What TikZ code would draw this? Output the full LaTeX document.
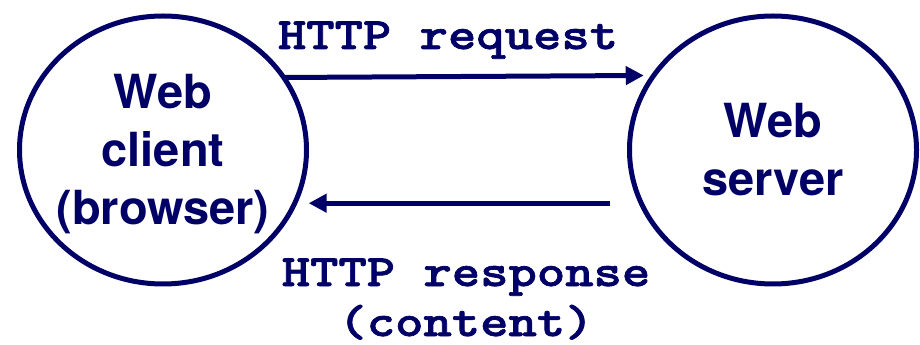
\documentclass[tikz,border=0pt]{standalone}
\usepackage{fontspec}
\usetikzlibrary{shapes.geometric,arrows.meta}
\newfontfamily\herosfont{TeX Gyre Heros}
\newfontfamily\courfont[FakeStretch=1.2,FakeBold=1.5]{lmmonolt10-bold.otf}
\definecolor{navy}{RGB}{0,0,102}
\tikzset{
  host/.style={draw=navy, line width=5pt, ellipse, minimum width=287pt,
    minimum height=268pt, inner sep=0pt, outer sep=0pt},
  hostlabel/.style={text=navy, font=\herosfont\bfseries\fontsize{47}{58}\selectfont,
    align=center, inner sep=0pt},
  msg/.style={text=navy, font=\courfont\fontsize{45}{50}\selectfont,
    align=center, inner sep=0pt},
  flow/.style={draw=navy, line width=5pt, -{Triangle[length=18pt,width=18pt]}}
}
\begin{document}
\begin{tikzpicture}[x=1pt,y=1pt]
        \useasboundingbox (0,0) rectangle (920,345);
        % クライアントの楕円
        \node[host] (client) at (163,195) {};
        \node[hostlabel, yshift=-4pt] (clienttext) at (client) {Web\\client\\(browser)};
        % サーバの楕円
        \node[host] (server) at (773,195) {};
        \node[hostlabel] (servertext) at (server) {Web\\server};
        % リクエストの矢印
        \draw[flow] (client.31.25) -- ([xshift=-10pt]server.148.75);
        \node[msg, anchor=base] (reqlabel) at (448,296) {HTTP request};
        % レスポンスの矢印
        \draw[flow] ([xshift=-31pt]server.202.35) -- ([xshift=14pt]client.-22.35);
        \node[msg, anchor=base] (resplabel) at (466,9) {HTTP response\\(content)};
      \end{tikzpicture}
\end{document}
